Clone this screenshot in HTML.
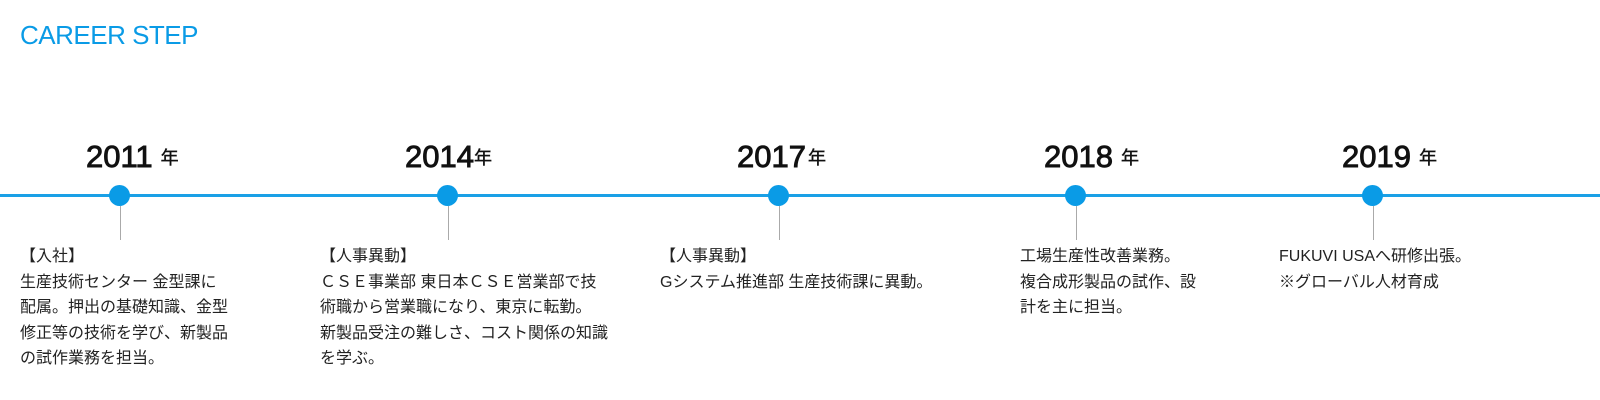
<!DOCTYPE html>
<html><head><meta charset="utf-8"><style>
body{margin:0;width:1600px;height:400px;background:#fff;position:relative;overflow:hidden;font-family:"Liberation Sans","Noto Sans CJK JP",sans-serif;color:#222}
.t{position:absolute;left:20px;top:20px;font-size:26px;color:#0a9be6;letter-spacing:-0.5px}
.line{position:absolute;left:0;top:194px;width:1600px;height:3px;background:#1aa0e6}
.dot{position:absolute;top:185px;width:21px;height:21px;border-radius:50%;background:#0a9be6}
.v{position:absolute;top:206px;width:1px;height:34px;background:#aaa}
.y{position:absolute;top:139px;font-size:31px;font-weight:normal;-webkit-text-stroke:0.9px #111;color:#111;white-space:nowrap}
.y span{font-size:18px;margin-left:8px;vertical-align:3px;-webkit-text-stroke:0.4px #111}
.d{position:absolute;top:244px;font-size:16px;line-height:25.5px;color:#222;white-space:nowrap}
</style></head><body>
<div class="t">CAREER STEP</div>
<div class="line"></div>
<div class="y" style="left:86px">2011<span>年</span></div>
<div class="y" style="left:405px">2014<span style="margin-left:0">年</span></div>
<div class="y" style="left:737px">2017<span style="margin-left:2px">年</span></div>
<div class="y" style="left:1044px">2018<span>年</span></div>
<div class="y" style="left:1342px">2019<span>年</span></div>
<div class="dot" style="left:109px"></div><div class="v" style="left:120px"></div>
<div class="dot" style="left:437px"></div><div class="v" style="left:448px"></div>
<div class="dot" style="left:768px"></div><div class="v" style="left:779px"></div>
<div class="dot" style="left:1065px"></div><div class="v" style="left:1076px"></div>
<div class="dot" style="left:1362px"></div><div class="v" style="left:1373px"></div>
<div class="d" style="left:20px">【入社】<br>生産技術センター 金型課に<br>配属。押出の基礎知識、金型<br>修正等の技術を学び、新製品<br>の試作業務を担当。</div>
<div class="d" style="left:320px">【人事異動】<br>ＣＳＥ事業部 東日本ＣＳＥ営業部で技<br>術職から営業職になり、東京に転勤。<br>新製品受注の難しさ、コスト関係の知識<br>を学ぶ。</div>
<div class="d" style="left:660px">【人事異動】<br>Gシステム推進部 生産技術課に異動。</div>
<div class="d" style="left:1020px">工場生産性改善業務。<br>複合成形製品の試作、設<br>計を主に担当。</div>
<div class="d" style="left:1279px">FUKUVI USAへ研修出張。<br>※グローバル人材育成</div>
</body></html>
